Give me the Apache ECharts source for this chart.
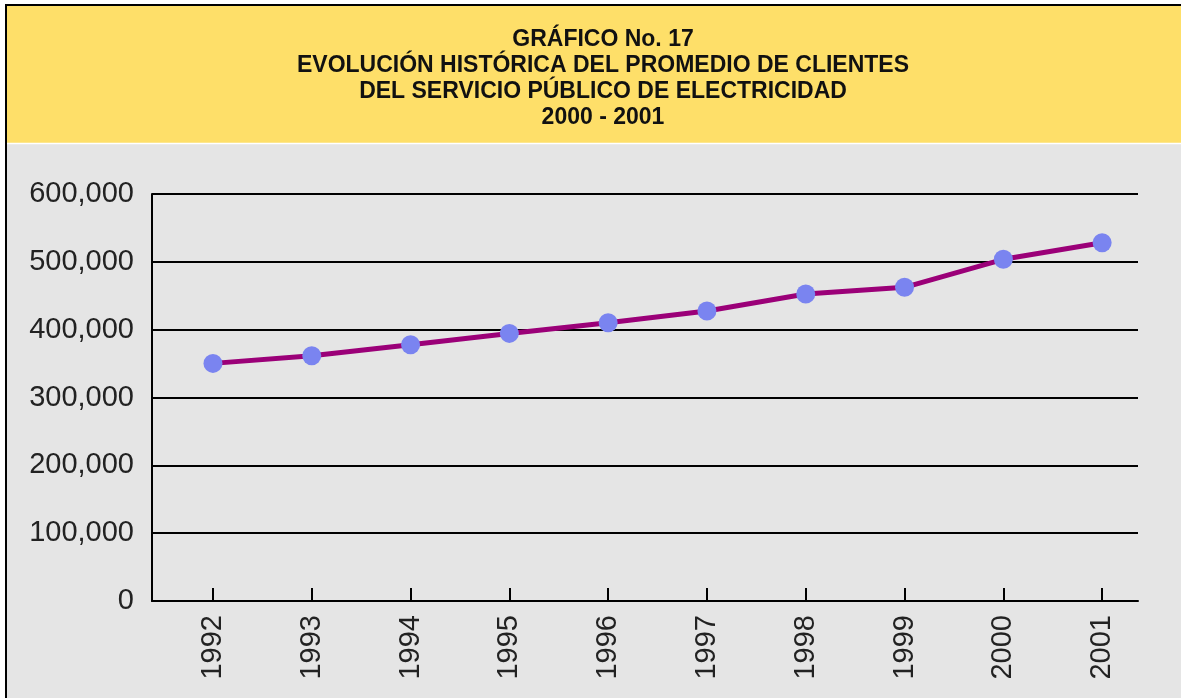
<!DOCTYPE html>
<html>
<head>
<meta charset="utf-8">
<script src="https://cdn.jsdelivr.net/npm/echarts@6/dist/echarts.min.js"></script>
<style>
  html, body { margin: 0; padding: 0; background: #fff; }
  #main { width: 1181px; height: 698px; }
</style>
</head>
<body>
<div id="main"></div>
<script>
const titleLines = [
  "GRÁFICO No. 17",
  "EVOLUCIÓN HISTÓRICA DEL PROMEDIO DE CLIENTES",
  "DEL SERVICIO PÚBLICO DE ELECTRICIDAD",
  "2000 - 2001",
];
const years = [1992, 1993, 1994, 1995, 1996, 1997, 1998, 1999, 2000, 2001];
const clientes = [350300, 361500, 377700, 394500, 410200, 427400, 452500, 462400, 503700, 528200];

const font = '"Liberation Sans", Arial, Helvetica, sans-serif';
const chart = echarts.init(document.getElementById("main"));

chart.setOption({
  backgroundColor: "#ffffff",
  animation: false,
  graphic: [
    { type: "rect", z: -10, shape: { x: 6, y: 5, width: 1175, height: 693 }, style: { fill: "#e5e5e5" } },
    { type: "rect", z: -9, shape: { x: 6, y: 5, width: 1175, height: 138 }, style: { fill: "#fedf69" } },
    { type: "line", z: -8, shape: { x1: 6, y1: 143.5, x2: 1181, y2: 143.5 }, style: { stroke: "#ffffff", lineWidth: 1.5 } },
    { type: "line", z: -7, shape: { x1: 5, y1: 5, x2: 1181, y2: 5 }, style: { stroke: "#000", lineWidth: 2 } },
    { type: "line", z: -7, shape: { x1: 6, y1: 4, x2: 6, y2: 698 }, style: { stroke: "#000", lineWidth: 2 } },
  ],
  title: {
    text: titleLines.join("\n"),
    left: 598,
    top: 22,
    textAlign: "center",
    textStyle: {
      fontFamily: font,
      fontSize: 23,
      fontWeight: "bold",
      color: "#111",
      lineHeight: 26,
      align: "center",
    },
  },
  grid: { left: 152, right: 43, top: 194, bottom: 97 },
  xAxis: {
    type: "value",
    min: 1991.383,
    max: 2001.363,
    splitLine: { show: false },
    axisLine: { show: true, lineStyle: { color: "#000", width: 2 } },
    axisTick: {
      show: true,
      inside: true,
      length: 13,
      customValues: years,
      lineStyle: { color: "#000", width: 2 },
    },
    axisLabel: {
      customValues: years,
      rotate: 90,
      margin: 14,
      fontFamily: font,
      fontSize: 29,
      color: "#222",
      formatter: (v) => String(Math.round(v)),
    },
  },
  yAxis: {
    type: "value",
    min: 0,
    max: 600000,
    interval: 100000,
    axisLine: { show: true, lineStyle: { color: "#000", width: 2 } },
    axisTick: { show: false },
    splitLine: { show: true, lineStyle: { color: "#000", width: 2 } },
    axisLabel: {
      margin: 18,
      fontFamily: font,
      fontSize: 29,
      color: "#222",
      formatter: (v) => v.toLocaleString("en-US"),
    },
  },
  series: [
    {
      type: "line",
      data: years.map((y, i) => [y, clientes[i]]),
      symbol: "circle",
      symbolSize: 19,
      lineStyle: { color: "#9b0078", width: 5 },
      itemStyle: { color: "#7a84f0" },
    },
  ],
});
</script>
</body>
</html>
